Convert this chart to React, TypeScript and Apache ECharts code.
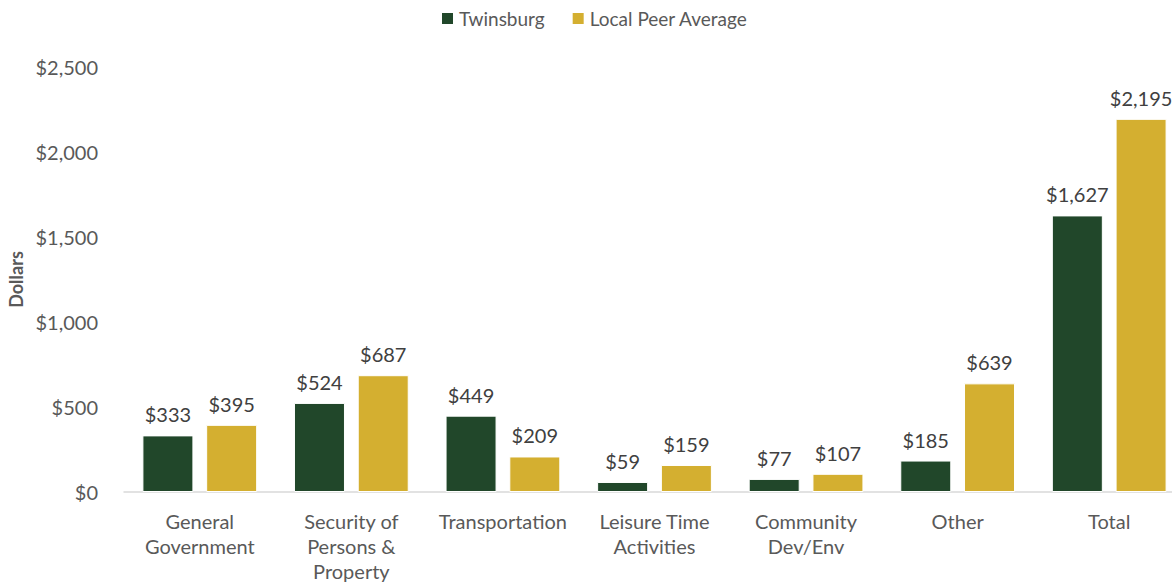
import React, { useEffect, useRef } from "react";
import * as echarts from "echarts";

const categories = ["General\nGovernment", "Security of\nPersons &\nProperty", "Transportation", "Leisure Time\nActivities", "Community\nDev/Env", "Other", "Total"];
const twinsburg = [333, 524, 449, 59, 77, 185, 1627];
const peerAverage = [395, 687, 209, 159, 107, 639, 2195];
const seriesNames = ["Twinsburg", "Local Peer Average"];

const FONT = "Lato";
const fmt = (v: number) => "$" + v.toLocaleString("en-US");

export default function App() {
  const ref = useRef<HTMLDivElement>(null);
  useEffect(() => {
    const chart = echarts.init(ref.current!, null, { renderer: "svg" });
    const labelStyle = {
      show: true,
      position: "top" as const,
      distance: 11,
      color: "#404040",
      fontSize: 20,
      fontFamily: FONT,
      formatter: (p: any) => fmt(p.value),
    };
    chart.setOption({
      animation: false,
      textStyle: { fontFamily: FONT },
      legend: {
        top: 4,
        left: 435,
        itemWidth: 13,
        itemHeight: 13,
        itemGap: 26,
        icon: "rect",
        textStyle: { color: "#595959", fontSize: 19, fontFamily: FONT },
        data: seriesNames,
      },
      grid: { left: 124, width: 1061, top: 67, bottom: 91, outerBoundsMode: "none", containLabel: false },
      xAxis: {
        type: "category",
        data: categories,
        axisLine: { lineStyle: { color: "#D9D9D9", width: 1.5 } },
        axisTick: { show: false },
        axisLabel: { color: "#595959", fontSize: 20, fontFamily: FONT, lineHeight: 25, margin: 16, interval: 0 },
      },
      yAxis: {
        type: "value",
        min: 0,
        max: 2500,
        interval: 500,
        name: "Dollars",
        nameLocation: "middle",
        nameGap: 99,
        nameTextStyle: { color: "#595959", fontSize: 18, fontWeight: "bold", fontFamily: FONT },
        axisLine: { show: false },
        axisTick: { show: false },
        splitLine: { show: false },
        axisLabel: { color: "#595959", fontSize: 20, fontFamily: FONT, margin: 26, formatter: (v: number) => fmt(v) },
      },
      series: [
        {
          name: seriesNames[0],
          type: "bar",
          data: twinsburg,
          barWidth: 51,
          barGap: "25%",
          itemStyle: { color: "#21472A", borderColor: "#FFFFFF", borderWidth: 1 },
          label: labelStyle,
        },
        {
          name: seriesNames[1],
          type: "bar",
          data: peerAverage,
          barWidth: 51,
          itemStyle: { color: "#D4AF30", borderColor: "#FFFFFF", borderWidth: 1 },
          label: labelStyle,
        },
      ],
    });
    return () => chart.dispose();
  }, []);
  return <div ref={ref} style={{ width: 1172, height: 583, position: "absolute", left: 0, top: 0, overflow: "hidden" }} />;
}
